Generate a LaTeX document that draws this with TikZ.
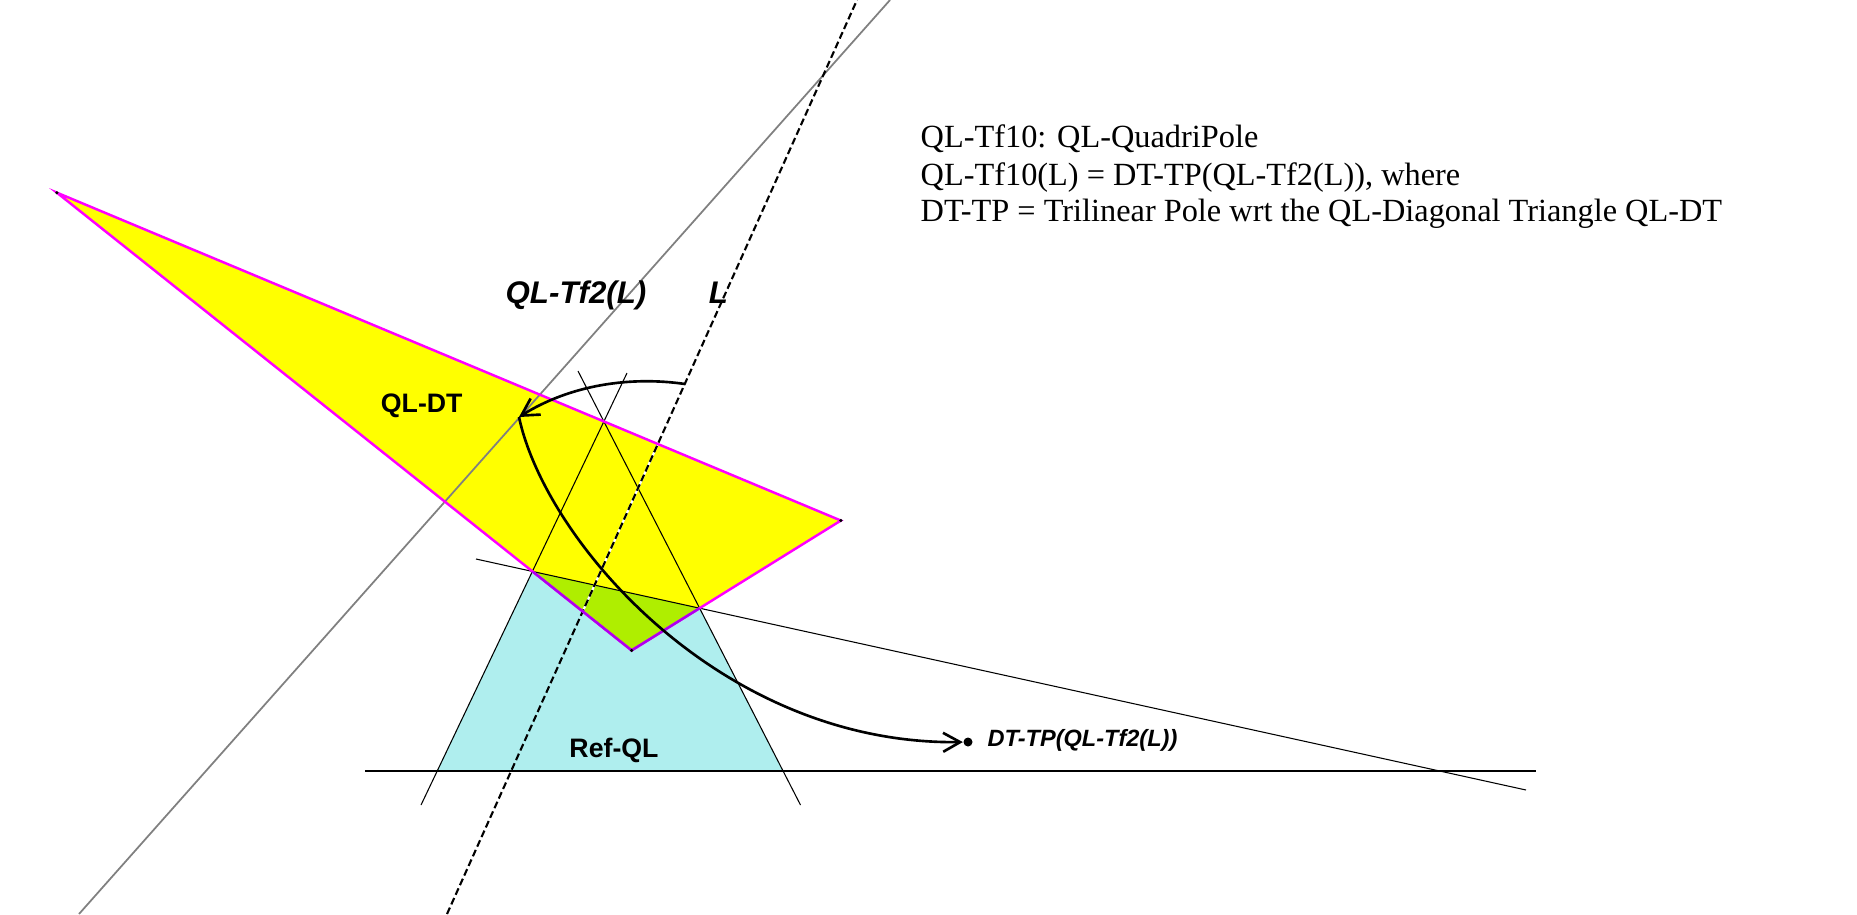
\documentclass[tikz,border=0pt]{standalone}
\usepackage{fontspec}
\setmainfont{Liberation Serif}
\setsansfont{Liberation Sans}
\usetikzlibrary{arrows.meta}
\definecolor{refcyan}{RGB}{175,238,238}
\definecolor{dtyellow}{RGB}{255,255,0}
\definecolor{dtgreen}{RGB}{175,238,0}
\definecolor{dtmagenta}{RGB}{255,0,255}
\definecolor{dtpurple}{RGB}{175,0,238}
\definecolor{tfgray}{RGB}{128,128,128}

\begin{document}
\begin{tikzpicture}[
  qlline/.style={line width=0.3pt},
  dtside/.style={draw=dtmagenta,line width=0.7pt},
  arcarrow/.style={line width=0.75pt,-{Straight Barb[length=1.7mm,width=1.9mm]}},
  biglabel/.style={anchor=base,font=\sffamily\bfseries\itshape\fontsize{8.9}{10}\selectfont},
  namelabel/.style={anchor=base,font=\sffamily\bfseries\fontsize{7.6}{9}\selectfont},
  textline/.style={anchor=base west,inner sep=0pt,font=\fontsize{9.2}{10.5}\selectfont},
  vertexdot/.style={circle,fill=black,inner sep=0pt,minimum size=1pt}
]
\useasboundingbox (0,0) rectangle (18.57,9.14);
\clip (0,0) rectangle (18.57,9.14);
% the four lines of Ref-QL
\coordinate (b1) at (3.65,1.43);
\coordinate (b2) at (15.36,1.43);
\coordinate (s1) at (4.76,3.55);
\coordinate (s2) at (15.26,1.24);
\coordinate (u1) at (4.21,1.09);
\coordinate (u2) at (6.27,5.41);
\coordinate (v1) at (8.005,1.09);
\coordinate (v2) at (5.78,5.43);
% line L and QL-Tf2(L)
\coordinate (l1) at (4.47,0);
\coordinate (l2) at (8.57,9.14);
\coordinate (g1) at (0.79,0);
\coordinate (g2) at (8.90,9.14);
% the six points of Ref-QL
\coordinate (P1) at (intersection of u1--u2 and v1--v2);
\coordinate (P2) at (intersection of u1--u2 and s1--s2);
\coordinate (P3) at (intersection of v1--v2 and s1--s2);
\coordinate (P4) at (intersection of u1--u2 and b1--b2);
\coordinate (P5) at (intersection of v1--v2 and b1--b2);
\coordinate (P6) at (intersection of s1--s2 and b1--b2);
% diagonal triangle QL-DT
\coordinate (dtA) at (intersection of P2--P5 and P3--P4);
\coordinate (dtB) at (intersection of P2--P5 and P1--P6);
\coordinate (dtC) at (intersection of P3--P4 and P1--P6);
\coordinate (T1) at (intersection of l1--l2 and dtB--dtC);
\coordinate (T2) at (intersection of l1--l2 and dtB--dtA);

\fill[refcyan] (P2) -- (P3) -- (P5) -- (P4) -- cycle;
\fill[dtyellow] (dtA) -- (dtB) -- (dtC) -- cycle;
\begin{scope}
\clip (P2) -- (P3) -- (P5) -- (P4) -- cycle;
\fill[dtgreen] (dtA) -- (dtB) -- (dtC) -- cycle;
\end{scope}

\draw[qlline] (b1) -- (b2);
\draw[qlline] (s1) -- (s2);
\draw[qlline] (u1) -- (u2);
\draw[qlline] (v1) -- (v2);
\draw[tfgray,line width=0.5pt] (g1) -- (g2);
\draw[white,line width=0.6pt] (T1) -- (T2);
\draw[line width=0.6pt,dash pattern=on 2pt off 1pt] (l1) -- (l2);

\draw[dtside] (dtA) -- (dtB) -- (dtC) -- cycle;
\begin{scope}
\clip (P2) -- (P3) -- (P5) -- (P4) -- cycle;
\draw[dtside,draw=dtpurple] (dtA) -- (dtB) -- (dtC) -- cycle;
\end{scope}
\node[vertexdot] (dA) at (dtA) {};
\node[vertexdot] (dB) at (dtB) {};
\node[vertexdot] (dC) at (dtC) {};

% QL-Tf10
\coordinate (lpt) at (6.85,5.30);
\coordinate (tfpt) at (5.19,4.97);
\node[circle,fill=black,inner sep=0pt,minimum size=0.9mm] (dttp) at (9.68,1.72) {};
\draw[arcarrow] (lpt) .. controls (6.30,5.38) and (5.70,5.29) .. (tfpt);
\draw[arcarrow] (tfpt) .. controls (5.45,3.74) and (7.20,1.69) .. (dttp);

\node[biglabel] (tf2lbl) at (5.76,6.11) {QL-Tf2(L)};
\node[biglabel] (llbl) at (7.185,6.11) {L};
\node[namelabel] (dtlbl) at (4.217,5.02) {QL-DT};
\node[namelabel] (reflbl) at (6.14,1.57) {Ref-QL};
\node[anchor=base west,inner sep=0pt,font=\sffamily\bfseries\itshape\fontsize{6.7}{8}\selectfont] (tplbl) at (9.87,1.68) {DT-TP(QL-Tf2(L))};

\node[textline] (t1) at (9.20,7.667) {QL-Tf10: QL-QuadriPole};
\node[textline] (t2) at (9.20,7.29) {QL-Tf10(L) = DT-TP(QL-Tf2(L)), where};
\node[textline] (t3) at (9.20,6.923) {DT-TP = Trilinear Pole wrt the QL-Diagonal Triangle QL-DT};
\end{tikzpicture}
\end{document}
